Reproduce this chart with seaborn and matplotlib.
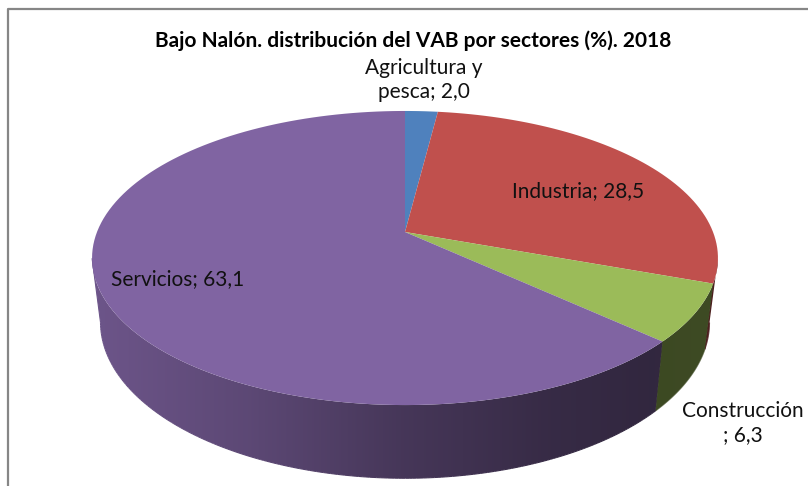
import numpy as np
import seaborn as sns
from matplotlib import pyplot as plt
from matplotlib.collections import LineCollection
from matplotlib.patches import Polygon
from matplotlib.path import Path
from matplotlib.transforms import Affine2D, Transform

sectors = ['Agricultura y\npesca', 'Industria', 'Construcción\n', 'Servicios']
values = [2.0, 28.5, 6.3, 63.1]
colors = ['#4f81bd', '#c0504d', '#9bbb59', '#8064a2']
title = 'Bajo Nalón. distribución del VAB por sectores (%). 2018'

# where the labels sit, in picture pixels
label_pos = [(424, 80), (578, 191), (743, 423), (178, 279)]


def project(x, y):
    # the pie is seen in perspective: unit circle -> picture pixels
    w = 1 + 0.1769 * y
    return 405 + 308 * x / w, (232 - 101.4 * y) / w


def project_bottom(x, y):
    # lower rim of the pie, a bit narrower and further down
    px, py = project(x, y)
    return 405 + (px - 405) * 0.973, 322 + (py - 258) * 1.0625


def side_shade(px):
    # the wall darkens from left to right
    return np.interp(px, [92, 250, 400, 550, 650, 720], [0.85, 0.72, 0.55, 0.43, 0.39, 0.40])


class Perspective(Transform):
    input_dims = 2
    output_dims = 2

    def transform_non_affine(self, values):
        px, py = project(values[:, 0], values[:, 1])
        return np.column_stack([px, py])

    def transform_path_non_affine(self, path):
        # flatten the curves first, the map is not affine
        polys = path.transformed(Affine2D().scale(1000)).to_polygons(closed_only=False)
        verts = np.concatenate(polys) / 1000
        return Path(self.transform_non_affine(verts))


sns.set_theme(style='white')
plt.rcParams['font.family'] = ['Lato', 'DejaVu Sans']

fig, ax = plt.subplots(figsize=(8.08, 4.86), dpi=100)
ax.set_position([0, 0, 1, 1])

palette = sns.color_palette(colors)
wedges, _ = ax.pie(values, colors=palette, startangle=90, counterclock=False,
                   wedgeprops={'edgecolor': 'none', 'linewidth': 0})

# outer wall, one gradient per sector clipped to its piece of the rim
xs = np.arange(0, 808)
for wedge, c in zip(wedges, palette):
    t = np.radians(np.linspace(wedge.theta1, wedge.theta2, 400))
    t = t[np.sin(t) <= -0.177]  # only what is in front of the widest points
    if len(t) == 0:
        continue
    tx, ty = project(np.cos(t), np.sin(t))
    bx, by = project_bottom(np.cos(t), np.sin(t))
    wall = Polygon(np.column_stack([np.r_[tx, bx[::-1]], np.r_[ty, by[::-1]]]),
                   transform=ax.transData, facecolor='none', edgecolor='none')
    ax.add_patch(wall)
    grad = np.outer(side_shade(xs), np.array(c))[np.newaxis, :, :]
    im = ax.imshow(grad, extent=(0, 808, 486, 0), aspect='auto', zorder=1)
    im.set_clip_path(wall)
    # thin rim in the same shades, the clipped edge alone looks jagged
    edge_x = np.r_[tx[:1], bx]
    edge_y = np.r_[ty[:1], by]
    pts = np.column_stack([edge_x, edge_y])
    segs = np.stack([pts[:-1], pts[1:]], axis=1)
    rim = [np.array(c) * side_shade(s[0, 0]) for s in segs]
    ax.add_collection(LineCollection(segs, colors=rim, linewidths=0.8, zorder=1))

to_pixels = Perspective() + ax.transData
for wedge in wedges:
    wedge.set_transform(to_pixels)
    wedge.set_zorder(2)

ax.set_aspect('auto')
ax.set_xlim(0, 808)
ax.set_ylim(486, 0)
ax.axis('off')

# chart frame, only left and top are in the crop
ax.plot([8, 8, 808], [486, 9, 9], color='#868686', lw=1.6, zorder=3)

ax.text(413, 41, title, fontsize=15, fontweight='bold', color='black',
        ha='center', va='center', zorder=4)
for name, val, (lx, ly) in zip(sectors, values, label_pos):
    label = name + '; ' + f'{val:.1f}'.replace('.', ',')
    ax.text(lx, ly, label, fontsize=15, color='#111111', ha='center', va='center',
            linespacing=1.3, zorder=4)

fig.savefig('out.png', dpi=100)
